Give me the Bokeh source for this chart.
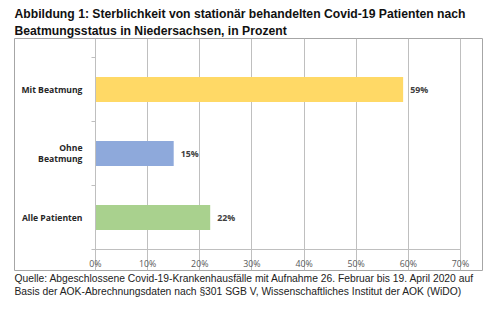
from bokeh.plotting import figure
from bokeh.models import (FixedTicker, LinearAxis, Title, ColumnDataSource)
from bokeh.core.properties import value
from bokeh.embed import file_html
from bokeh.resources import INLINE

categories = ["Alle Patienten", "Ohne Beatmung", "Mit Beatmung"]
cat_labels = ["Alle Patienten", "Ohne\nBeatmung", "Mit Beatmung"]
values = [22, 15, 59]
colors = ["#A9D18E", "#8EA9DB", "#FFD966"]
x_ticks = [0, 10, 20, 30, 40, 50, 60, 70]
x_tick_labels = ["0%", "10%", "20%", "30%", "40%", "50%", "60%", "70%"]
title_lines = ["Abbildung 1: Sterblichkeit von stationär behandelten Covid-19 Patienten nach",
               "Beatmungsstatus in Niedersachsen, in Prozent"]
source_lines = ["Quelle: Abgeschlossene Covid-19-Krankenhausfälle mit Aufnahme 26. Februar bis 19. April 2020 auf",
                "Basis der AOK-Abrechnungsdaten nach §301 SGB V, Wissenschaftliches Institut der AOK (WiDO)"]

ypos = [i + 0.5 for i in range(len(categories))]
src = ColumnDataSource(dict(y=ypos, v=values, c=colors,
                            lab=[f"{v}%" for v in values]))
tick_src = ColumnDataSource(dict(x=x_ticks, y=[0] * len(x_ticks), t=x_tick_labels))

# frame = chart box (x 14..482, y 38..270); data area 0..70 % maps to x 95..460, y 249..57
p = figure(frame_width=468, frame_height=232, output_backend="svg", toolbar_location=None,
           x_range=(-15.53, 74.22), y_range=(-0.328, 3.297),
           x_axis_location=None, y_axis_location=None,
           min_border_left=14, min_border_right=18, min_border_top=38, min_border_bottom=60)
p.outline_line_color = "#A6A6A6"
p.background_fill_color = "white"
p.border_fill_color = "white"

p.hbar(y="y", right="v", left=0, height=0.39, fill_color="c", line_color=None, source=src)
p.text(x="v", y="y", text="lab", source=src, x_offset=7, text_baseline="middle",
       text_align="left", text_font=value("Open Sans"), text_font_size="8.8px",
       text_font_style="bold", text_color="#404040")

# x tick labels
p.text(x="x", y="y", text="t", source=tick_src, y_offset=8, text_baseline="top",
       text_align="center", text_font=value("Open Sans"), text_font_size="8.8px",
       text_color="#595959")

# x axis (line + ticks)
xa = LinearAxis(fixed_location=0, bounds=(x_ticks[0], x_ticks[-1]))
xa.ticker = FixedTicker(ticks=x_ticks)
xa.major_label_overrides = {t: "" for t in x_ticks}
xa.axis_line_color = "#BFBFBF"
xa.major_tick_line_color = "#BFBFBF"
xa.major_tick_out = 4
xa.major_tick_in = 0
xa.minor_tick_line_color = None
p.add_layout(xa, "below")

# y axis
ya = LinearAxis(fixed_location=0, bounds=(0, len(categories)))
ya.ticker = FixedTicker(ticks=ypos, minor_ticks=list(range(len(categories) + 1)))
ya.major_label_overrides = {y: l for y, l in zip(ypos, cat_labels)}
ya.axis_line_color = "#BFBFBF"
ya.major_tick_line_color = None
ya.major_tick_out = 0
ya.major_tick_in = 0
ya.minor_tick_line_color = "#BFBFBF"
ya.minor_tick_out = 4
ya.minor_tick_in = 0
ya.major_label_text_font = "Open Sans"
ya.major_label_text_font_size = "8.6px"
ya.major_label_text_font_style = "bold"
ya.major_label_text_color = "#262626"
ya.major_label_text_line_height = 0.95
ya.major_label_standoff = 9
p.add_layout(ya, "left")

p.xgrid.ticker = FixedTicker(ticks=x_ticks)
p.xgrid.bounds = (0, len(categories))
p.xgrid.grid_line_color = "#BFBFBF"
p.ygrid.grid_line_color = None

# titles above (first added is nearest the frame)
for t in reversed(title_lines):
    p.add_layout(Title(text=t, align="left", offset=0, standoff=1,
                       text_font="Liberation Sans", text_font_size="12.2px",
                       text_font_style="bold", text_color="#111111"), "above")
for i, t in enumerate(source_lines):
    p.add_layout(Title(text=t, align="left", offset=0, standoff=0,
                       text_font="Liberation Sans", text_font_size="10.3px",
                       text_font_style="normal", text_color="#222222"), "below")

open("out.html", "w").write(file_html(p, INLINE))
